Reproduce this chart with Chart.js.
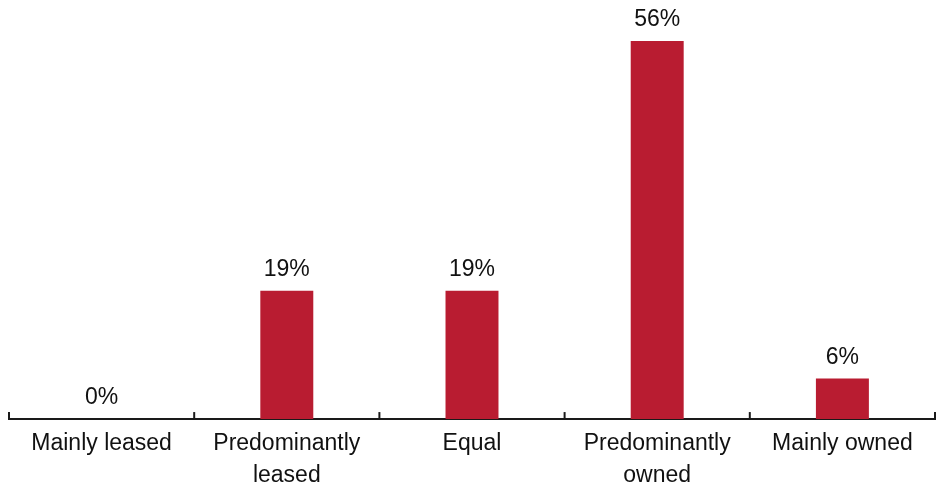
<!DOCTYPE html>
<html>
<head>
<meta charset="utf-8">
<script src="https://cdn.jsdelivr.net/npm/chart.js@4"></script>
<style>
  html, body { margin: 0; padding: 0; background: #ffffff; }
  #wrap { width: 936px; height: 496px; position: relative; }
</style>
</head>
<body>
<div id="wrap"><canvas id="chart"></canvas></div>
<script>
const categories = [
  "Mainly leased",
  ["Predominantly", "leased"],
  "Equal",
  ["Predominantly", "owned"],
  "Mainly owned"
];
const shares = [0, 19, 19, 56, 6];
const valueLabels = ["0%", "19%", "19%", "56%", "6%"];

const BAR_RED = "#B91C31";
const FONT = "'Liberation Sans', Arial, Helvetica, sans-serif";

// Value labels above each bar
const valueLabelPlugin = {
  id: "valueLabels",
  afterDatasetsDraw(chart) {
    const ctx = chart.ctx;
    const meta = chart.getDatasetMeta(0);
    ctx.save();
    ctx.font = "23px " + FONT;
    ctx.fillStyle = "#111111";
    ctx.textAlign = "center";
    ctx.textBaseline = "alphabetic";
    meta.data.forEach((bar, i) => {
      ctx.fillText(valueLabels[i], bar.x, bar.y - 15);
    });
    ctx.restore();
  }
};

// Short upward tick marks at category boundaries
const boundaryTicksPlugin = {
  id: "boundaryTicks",
  afterDraw(chart) {
    const xs = chart.scales.x;
    const n = categories.length;
    const step = xs.getPixelForValue(1) - xs.getPixelForValue(0);
    const ctx = chart.ctx;
    ctx.save();
    ctx.strokeStyle = "#1a1a1a";
    ctx.lineWidth = 2;
    for (let i = 0; i <= n; i++) {
      const x = xs.getPixelForValue(0) - step / 2 + i * step;
      ctx.beginPath();
      ctx.moveTo(x, xs.top);
      ctx.lineTo(x, xs.top - 7);
      ctx.stroke();
    }
    ctx.restore();
  }
};

new Chart(document.getElementById("chart"), {
  type: "bar",
  data: {
    labels: categories,
    datasets: [{
      data: shares,
      backgroundColor: BAR_RED,
      borderWidth: 0,
      categoryPercentage: 1,
      barPercentage: 0.286
    }]
  },
  options: {
    responsive: true,
    maintainAspectRatio: false,
    animation: false,
    layout: { padding: { left: 9, right: 1, top: 14, bottom: -5 } },
    plugins: {
      legend: { display: false },
      tooltip: { enabled: false }
    },
    scales: {
      x: {
        grid: { display: false, drawTicks: false },
        border: { display: true, color: "#1a1a1a", width: 2 },
        ticks: {
          color: "#111111",
          font: { family: FONT, size: 23, lineHeight: 1.39 },
          padding: 9,
          maxRotation: 0,
          autoSkip: false
        }
      },
      y: {
        display: false,
        min: 0,
        max: 60
      }
    }
  },
  plugins: [valueLabelPlugin, boundaryTicksPlugin]
});
</script>
</body>
</html>
